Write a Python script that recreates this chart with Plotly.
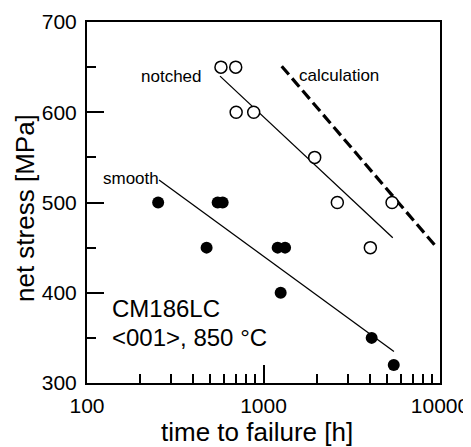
import plotly.graph_objects as go

# ---- data ----
notched_time = [574, 696, 700, 880, 1950, 2620, 5350, 4030]
notched_stress = [650, 650, 600, 600, 550, 500, 500, 450]

smooth_time = [253, 550, 587, 476, 1203, 1325, 1251, 4100, 5470]
smooth_stress = [500, 500, 500, 450, 450, 450, 400, 350, 320]

notched_fit_time = [567, 5400]
notched_fit_stress = [640, 461]

smooth_fit_time = [256, 5485]
smooth_fit_stress = [525, 335]

calc_time = [1268, 9700]
calc_stress = [651, 449]

y_ticks = [300, 400, 500, 600, 700]
y_minor = [350, 450, 550, 650]
x_ticks = [100, 1000, 10000]
x_tick_labels = ["100", "1000", "10000"]
x_minor = [200, 300, 400, 500, 600, 700, 800, 900,
           2000, 3000, 4000, 5000, 6000, 7000, 8000, 9000]

FONT = "Liberation Sans, Arial, sans-serif"
# the page body has an 8px margin, so the figure is drawn 8px smaller
# and every page-pixel position below is shifted by that offset
OFF = 8
W, H = 471 - OFF, 447 - OFF
L, R, T, B = 87 - OFF, 31, 22 - OFF, 64
PW, PH = W - L - R, H - T - B


def px(x):
    return (x - OFF - L) / PW


def py(y):
    return (H - B - (y - OFF)) / PH


fig = go.Figure()

fig.add_trace(go.Scatter(x=calc_time, y=calc_stress, mode="lines",
                         line=dict(color="black", width=3.2, dash="11px,5px"),
                         showlegend=False, hoverinfo="skip"))
fig.add_trace(go.Scatter(x=notched_fit_time, y=notched_fit_stress, mode="lines",
                         line=dict(color="black", width=1.3),
                         showlegend=False, hoverinfo="skip"))
fig.add_trace(go.Scatter(x=smooth_fit_time, y=smooth_fit_stress, mode="lines",
                         line=dict(color="black", width=1.3),
                         showlegend=False, hoverinfo="skip"))
fig.add_trace(go.Scatter(x=notched_time, y=notched_stress, mode="markers",
                         marker=dict(symbol="circle", size=12, color="white",
                                     line=dict(color="black", width=1.5)),
                         showlegend=False, name="notched"))
fig.add_trace(go.Scatter(x=smooth_time, y=smooth_stress, mode="markers",
                         marker=dict(symbol="circle", size=12, color="black",
                                     line=dict(color="black", width=0)),
                         showlegend=False, name="smooth"))

axis_common = dict(showgrid=False, zeroline=False, showline=True,
                   linecolor="black", linewidth=2, mirror=True, automargin=False,
                   ticks="inside", tickcolor="black", tickwidth=1.5,
                   tickfont=dict(family=FONT, size=21, color="black"))

fig.update_xaxes(type="log", range=[2, 4], tickmode="array",
                 tickvals=x_ticks, ticktext=x_tick_labels, ticklen=18,
                 ticklabelstandoff=3,
                 minor=dict(tickmode="array", tickvals=x_minor, ticks="inside",
                            ticklen=9, tickwidth=1.5, tickcolor="black"),
                 **axis_common)
fig.update_yaxes(range=[300, 700], tickmode="array", tickvals=y_ticks,
                 ticklen=17, ticklabelstandoff=4,
                 minor=dict(tickmode="array", tickvals=y_minor, ticks="inside",
                            ticklen=9, tickwidth=1.5, tickcolor="black"),
                 **axis_common)

ann = []
lab = dict(family=FONT, size=17, color="black")
ann.append(dict(text="notched", x=px(204), y=py(76), xanchor="right", yanchor="middle", font=lab))
ann.append(dict(text="calculation", x=px(297), y=py(75), xanchor="left", yanchor="middle", font=lab))
ann.append(dict(text="smooth", x=px(101), y=py(178), xanchor="left", yanchor="middle", font=lab))
big = dict(family=FONT, size=24, color="black")
ann.append(dict(text="CM186LC", x=px(110), y=py(308), xanchor="left", yanchor="middle", font=big))
ann.append(dict(text="<001>, 850 °C", x=px(110), y=py(337), xanchor="left", yanchor="middle", font=big))
title_font = dict(family=FONT, size=26, color="black")
ann.append(dict(text="time to failure [h]", x=px(257), y=py(432), xanchor="center", yanchor="middle", font=title_font))
ann.append(dict(text="net stress [MPa]", x=px(25), y=py(208), xanchor="center", yanchor="middle",
                textangle=-90, font=title_font))
for a in ann:
    a.update(xref="paper", yref="paper", showarrow=False)

fig.update_layout(width=W, height=H, margin=dict(l=L, r=R, t=T, b=B, autoexpand=False),
                  paper_bgcolor="white", plot_bgcolor="white",
                  annotations=ann, showlegend=False)

fig.write_html("out.html")
